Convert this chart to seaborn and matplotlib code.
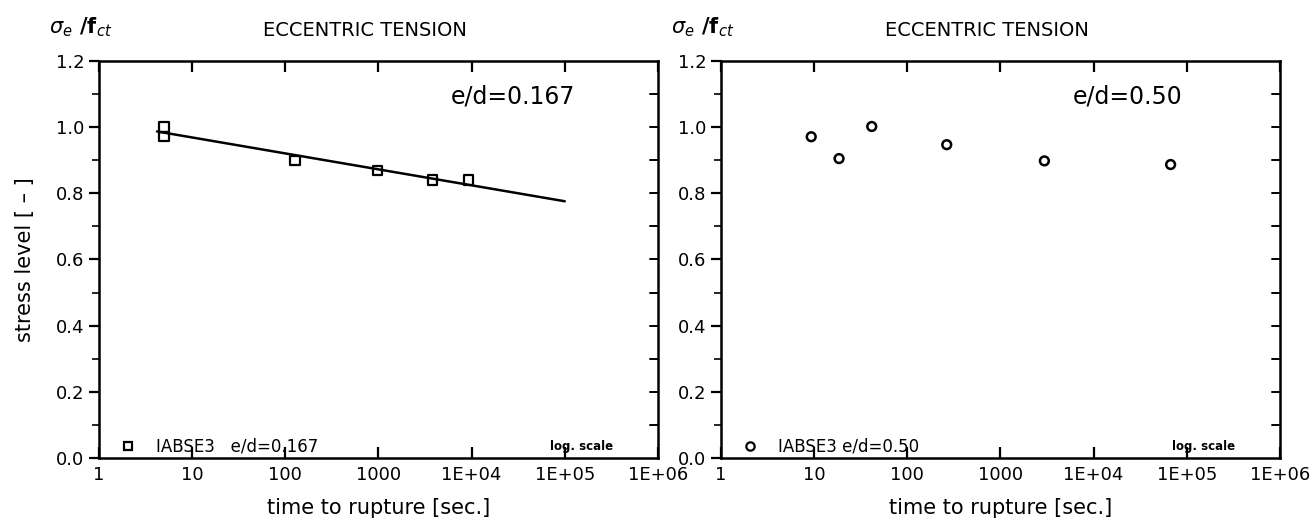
import numpy as np
import pandas as pd
import seaborn as sns
import matplotlib.pyplot as plt
from matplotlib.ticker import FixedLocator, MultipleLocator, FormatStrFormatter

# data
left_time = [5, 5, 127, 980, 3800, 9300]
left_stress = [1.00, 0.972, 0.899, 0.868, 0.840, 0.840]
fit_time = [4.2, 1e5]
fit_stress = [0.987, 0.776]

right_time = [9.3, 18.5, 41.5, 265, 2960, 67000]
right_stress = [0.971, 0.905, 1.002, 0.947, 0.898, 0.887]

x_ticks = [1, 10, 100, 1000, 1e4, 1e5, 1e6]
x_tick_labels = ["1", "10", "100", "1000", "1E+04", "1E+05", "1E+06"]
y_ticks = [0.0, 0.2, 0.4, 0.6, 0.8, 1.0, 1.2]
y_minor = [0.1, 0.3, 0.5, 0.7, 0.9, 1.1]

sns.set_theme(style="ticks")
plt.rcParams['font.family'] = ['DejaVu Sans']
plt.rcParams['mathtext.fontset'] = 'dejavusans'

fig = plt.figure(figsize=(13.14, 5.28), dpi=100)
ax1 = fig.add_axes([0.0753, 0.1326, 0.4254, 0.7519])
ax2 = fig.add_axes([0.5487, 0.1326, 0.4254, 0.7519])

left_df = pd.DataFrame({"t": left_time, "s": left_stress})
right_df = pd.DataFrame({"t": right_time, "s": right_stress})
fit_df = pd.DataFrame({"t": fit_time, "s": fit_stress})

sns.lineplot(x="t", y="s", data=fit_df, ax=ax1, color="black", lw=1.8)
sns.scatterplot(x="t", y="s", data=left_df, ax=ax1, marker="s", s=45,
                facecolor="none", edgecolor="black", linewidth=1.6)
sns.scatterplot(x="t", y="s", data=right_df, ax=ax2, marker="o", s=40,
                facecolor="none", edgecolor="black", linewidth=1.8)


def style_axis(ax, ratio, legend_marker, legend_text):
    ax.set_xscale("log")
    ax.set_xlim(1, 1e6)
    ax.set_ylim(0, 1.2)
    ax.xaxis.set_major_locator(FixedLocator(x_ticks))
    ax.xaxis.set_minor_locator(FixedLocator([]))
    ax.set_xticklabels(x_tick_labels)
    ax.yaxis.set_major_locator(FixedLocator(y_ticks))
    ax.yaxis.set_minor_locator(FixedLocator(y_minor))
    ax.yaxis.set_major_formatter(FormatStrFormatter("%.1f"))
    for sp in ax.spines.values():
        sp.set_visible(True)
        sp.set_color("black")
        sp.set_linewidth(1.8)
    ax.tick_params(axis="x", which="major", direction="in", length=8, width=1.6,
                   top=True, bottom=True, labelsize=13, pad=6, colors="black")
    ax.tick_params(axis="y", which="major", direction="out", length=7, width=1.6,
                   left=True, right=False, labelsize=13, colors="black")
    ax.tick_params(axis="y", which="minor", direction="out", length=5, width=1.4,
                   left=True, right=False)
    # right spine ticks pointing inwards
    tr = ax.get_yaxis_transform()
    for v in y_ticks[1:-1] + y_minor:
        ax.plot([0.986, 1.0], [v, v], transform=tr, color="black", lw=1.4,
                clip_on=False)
    ax.set_xlabel("time to rupture [sec.]", fontsize=15, color="black", labelpad=10)
    ax.set_ylabel("")
    ax.text(0.476, 1.078, "ECCENTRIC TENSION", transform=ax.transAxes,
            ha="center", va="center", fontsize=14, color="black")
    ax.text(-0.09, 1.085, r"$\sigma_e$ /f$_{ct}$", transform=ax.transAxes,
            ha="left", va="center", fontsize=15, fontweight="bold", color="black")
    ax.text(0.63, 0.91, ratio, transform=ax.transAxes, ha="left", va="center",
            fontsize=17, color="black")
    ax.plot([0.052], [0.03], transform=ax.transAxes, marker=legend_marker, ms=6,
            mfc="none", mec="black", mew=1.6, ls="none")
    ax.text(0.102, 0.03, legend_text, transform=ax.transAxes,
            ha="left", va="center", fontsize=12, color="black")
    ax.text(0.92, 0.028, "log. scale", transform=ax.transAxes, ha="right",
            va="center", fontsize=8.5, fontweight="bold", color="black")


style_axis(ax1, "e/d=0.167", "s", "IABSE3   e/d=0.167")
style_axis(ax2, "e/d=0.50", "o", "IABSE3 e/d=0.50")

ax1.set_ylabel("stress level [ \u2013 ]", fontsize=15, color="black")
ax1.yaxis.set_label_coords(-0.115, 0.5)

fig.savefig("out.png", dpi=100, facecolor="white")
